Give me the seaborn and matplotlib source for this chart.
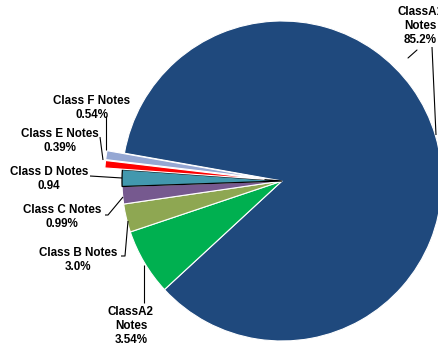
import matplotlib
matplotlib.use("Agg")
import matplotlib.pyplot as plt
import seaborn as sns

sns.set_theme(style="white")
plt.rcParams['font.family'] = ['Liberation Sans', 'DejaVu Sans']

# slice sizes as drawn (percent of the circle), clockwise from Class A1
categories = ["ClassA1 Notes", "ClassA2 Notes", "Class B Notes", "Class C Notes",
              "Class D Notes", "Class E Notes", "Class F Notes"]
values = [85.2, 6.7, 2.85, 1.75, 1.68, 0.74, 0.9]
label_values = ["85.2%", "3.54%", "3.0%", "0.99%", "0.94", "0.39%", "0.54%"]
label_names = ["ClassA1\nNotes", "ClassA2\nNotes", "Class B Notes", "Class C Notes",
               "Class D Notes", "Class E Notes", "Class F Notes"]
colors = ["#1F497D", "#00B050", "#8EA752", "#76598F", "#4298AE", "#FF0000", "#95A7D3"]

W, H = 438, 345
fig = plt.figure(figsize=(W / 100, H / 100), dpi=100)
ax = fig.add_axes([0, 0, 1, 1])

cx, cy, r = 282, H - 181, 160
explode = [0, 0, 0, 0, 0, 0.11 * r, 0.11 * r]
wedges, _ = ax.pie(values, colors=colors, explode=explode, startangle=170,
                   counterclock=False, center=(cx, cy), radius=r,
                   wedgeprops=dict(edgecolor="white", linewidth=0.8))
wedges[4].set_edgecolor("black")
wedges[4].set_linewidth(0.9)
ax.set_xlim(0, W)
ax.set_ylim(0, H)
ax.set_aspect("equal")
ax.axis("off")

def Y(y):
    return H - y

fs = 8.4
# label text positions (pixel coords, top-left origin) and leader lines
txt_pos = [(420, 26), (131, 326), (78, 260), (62, 217), (49, 179), (60, 141), (92, 108)]
leaders = [
    [(432, 47), (436, 135)],
    [(144, 303), (144, 265)],
    [(121, 256), (125, 256), (128, 221)],
    [(105, 215), (108, 215), (123, 197)],
    [(90, 176), (122, 178)],
    [(100, 137), (103, 160)],
    [(106, 116), (106, 150)],
]
for name, val, (tx, ty) in zip(label_names, label_values, txt_pos):
    ax.text(tx, Y(ty), f"{name}\n{val}", ha="center", va="center",
            fontsize=fs, fontweight="bold", color="black", linespacing=1.2)
for pts in leaders:
    xs = [p[0] for p in pts]
    ys = [Y(p[1]) for p in pts]
    ax.plot(xs, ys, color="black", lw=0.8, solid_capstyle="butt")
ax.plot([408, 417], [Y(58), Y(50)], color="black", lw=0.8)

fig.savefig("out.png", dpi=100)
